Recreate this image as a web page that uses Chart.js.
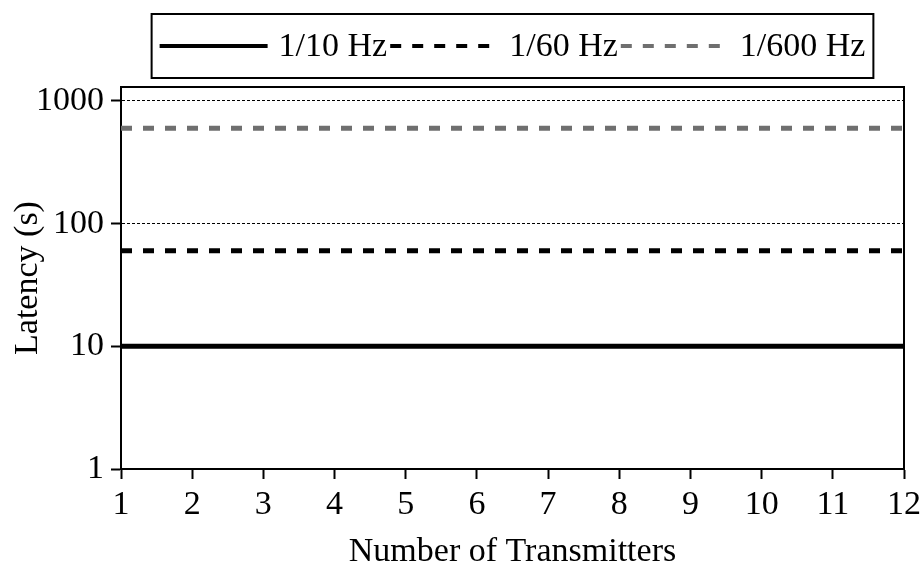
<!DOCTYPE html>
<html>
<head>
<meta charset="utf-8">
<script src="https://cdn.jsdelivr.net/npm/chart.js@4/dist/chart.umd.min.js"></script>
<style>
html, body { margin: 0; padding: 0; background: #fff; }
#wrap { width: 922px; height: 569px; }
</style>
</head>
<body>
<div id="wrap"><canvas id="chart-1"></canvas></div>
<script>
var transmitters = ['1', '2', '3', '4', '5', '6', '7', '8', '9', '10', '11', '12'];
var latency10 = [10, 10, 10, 10, 10, 10, 10, 10, 10, 10, 10, 10];
var latency60 = [60, 60, 60, 60, 60, 60, 60, 60, 60, 60, 60, 60];
var latency600 = [600, 600, 600, 600, 600, 600, 600, 600, 600, 600, 600, 600];
var seriesNames = ['1/10 Hz', '1/60 Hz', '1/600 Hz'];
var latencyTicks = [1, 10, 100, 1000];

var serif = '"Liberation Serif", "Times New Roman", serif';
var grey = '#6f6f6f';

// legend in a box, centred over the plot
var boxLegend = {
	id: 'boxLegend',
	afterDraw: function(chart) {
		var ctx = chart.ctx;
		var sets = chart.data.datasets;
		var lineLen = 108, gapA = 11, gapB = 3, pad = 8;
		ctx.save();
		ctx.font = '34px ' + serif;
		var total = 0;
		for (var i = 0; i < sets.length; i++) {
			total += lineLen + gapA + ctx.measureText(sets[i].label).width;
			if (i < sets.length - 1) total += gapB;
		}
		var cx = (chart.chartArea.left + chart.chartArea.right) / 2;
		var x = cx - total / 2;
		var y = 46;
		ctx.lineWidth = 2;
		ctx.strokeStyle = '#000';
		ctx.setLineDash([]);
		ctx.strokeRect(x - pad, 14, total + 2 * pad, 64);
		ctx.textBaseline = 'middle';
		ctx.fillStyle = '#000';
		for (var i = 0; i < sets.length; i++) {
			ctx.beginPath();
			ctx.lineWidth = 4;
			ctx.strokeStyle = sets[i].borderColor;
			ctx.setLineDash(sets[i].borderDash || []);
			ctx.moveTo(x, y);
			ctx.lineTo(x + lineLen, y);
			ctx.stroke();
			x += lineLen + gapA;
			ctx.fillText(sets[i].label, x, y + 1);
			x += ctx.measureText(sets[i].label).width + gapB;
		}
		ctx.restore();
	}
};

// top and right edges of the plot frame
var frame = {
	id: 'frame',
	afterDraw: function(chart) {
		var a = chart.chartArea;
		var ctx = chart.ctx;
		ctx.save();
		ctx.lineWidth = 2;
		ctx.strokeStyle = '#000';
		ctx.beginPath();
		ctx.moveTo(a.left, a.top);
		ctx.lineTo(a.right, a.top);
		ctx.lineTo(a.right, a.bottom);
		ctx.stroke();
		ctx.restore();
	}
};

var data1 = {
	labels: transmitters,
	datasets: [{
		label: seriesNames[0],
		data: latency10,
		borderColor: '#000',
		borderWidth: 5,
		pointRadius: 0
	}, {
		label: seriesNames[1],
		data: latency60,
		borderColor: '#000',
		borderWidth: 5,
		borderDash: [11, 11],
		pointRadius: 0
	}, {
		label: seriesNames[2],
		data: latency600,
		borderColor: grey,
		borderWidth: 5,
		borderDash: [11, 11],
		pointRadius: 0
	}]
};

var options1 = {
	responsive: true,
	maintainAspectRatio: false,
	animation: false,
	layout: {
		padding: { top: 87, right: 18, left: 0, bottom: 0 }
	},
	plugins: {
		legend: { display: false },
		tooltip: { enabled: false }
	},
	scales: {
		x: {
			type: 'category',
			offset: false,
			grid: {
				drawOnChartArea: false,
				drawTicks: true,
				tickLength: 10,
				tickWidth: 2,
				tickColor: '#000'
			},
			border: { display: true, color: '#000', width: 2 },
			ticks: {
				color: '#000',
				autoSkip: false,
				maxRotation: 0,
				padding: 6,
				font: { family: serif, size: 34 }
			},
			title: {
				display: true,
				text: 'Number of Transmitters',
				color: '#000',
				font: { family: serif, size: 34 },
				padding: { top: 0, bottom: -3 }
			},
			afterFit: function(s) {
				s.height = 100;
				s.paddingLeft = 0;
				s.paddingRight = 0;
			}
		},
		y: {
			type: 'logarithmic',
			min: 1,
			max: 1300,
			afterBuildTicks: function(s) {
				s.ticks = latencyTicks.map(function(v) { return { value: v }; });
			},
			grid: {
				color: '#000',
				lineWidth: 1,
				tickBorderDash: [],
				tickColor: '#000',
				tickWidth: 2,
				tickLength: 10
			},
			border: { display: true, color: '#000', width: 2, dash: [3, 2] },
			ticks: {
				color: '#000',
				padding: 7,
				font: { family: serif, size: 34 },
				callback: function(v) { return String(v); }
			},
			title: {
				display: true,
				text: 'Latency (s)',
				color: '#000',
				font: { family: serif, size: 34 },
				padding: { top: 8, bottom: 0 }
			},
			afterFit: function(s) {
				s.width = 121;
				s.paddingTop = 0;
				s.paddingBottom = 0;
			}
		}
	}
};

var graph = new Chart('chart-1', {
	type: 'line',
	data: data1,
	options: options1,
	plugins: [boxLegend, frame]
});
</script>
</body>
</html>
